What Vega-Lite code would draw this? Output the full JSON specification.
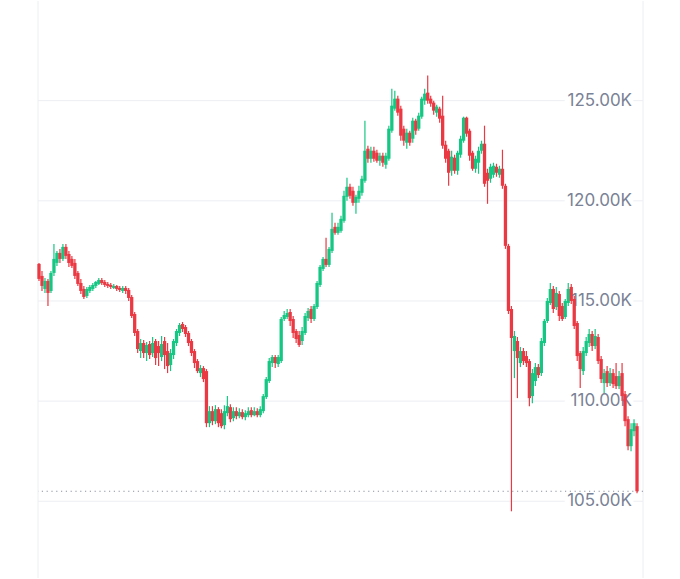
{
"$schema":"https://vega.github.io/schema/vega-lite/v6.json",
"width":680,"height":579,
"autosize":{"type":"fit","contains":"padding"},
"padding":{"left":37,"right":36,"top":0,"bottom":0},
"background":"white",
"config":{"view":{"stroke":null},"scale":{"continuousPadding":0}},
"datasets":{
"one":[{}],
"levels":[{"v":125,"label":"125.00K"},{"v":120,"label":"120.00K"},{"v":115,"label":"115.00K"},{"v":110,"label":"110.00K"},{"v":105,"label":"105.00K"}],
"candles":[
{"i":0,"o":116.85,"h":116.9,"l":116.0,"c":116.1},
{"i":1,"o":116.25,"h":116.5,"l":115.5,"c":115.75},
{"i":2,"o":115.6,"h":116.15,"l":115.4,"c":116.0},
{"i":3,"o":116.0,"h":116.1,"l":114.75,"c":115.4},
{"i":4,"o":115.5,"h":116.5,"l":115.4,"c":116.4},
{"i":5,"o":116.4,"h":117.85,"l":116.25,"c":117.1},
{"i":6,"o":116.9,"h":117.5,"l":116.75,"c":117.4},
{"i":7,"o":117.4,"h":117.6,"l":116.9,"c":117.1},
{"i":8,"o":117.1,"h":117.85,"l":117.0,"c":117.7},
{"i":9,"o":117.7,"h":117.85,"l":117.1,"c":117.25},
{"i":10,"o":117.35,"h":117.5,"l":116.7,"c":116.9},
{"i":11,"o":117.1,"h":117.25,"l":116.65,"c":116.75},
{"i":12,"o":116.9,"h":117.1,"l":116.1,"c":116.25},
{"i":13,"o":116.4,"h":116.5,"l":115.75,"c":115.85},
{"i":14,"o":115.9,"h":116.1,"l":115.35,"c":115.5},
{"i":15,"o":115.6,"h":115.75,"l":115.1,"c":115.2},
{"i":16,"o":115.25,"h":115.7,"l":115.15,"c":115.6},
{"i":17,"o":115.5,"h":115.8,"l":115.4,"c":115.7},
{"i":18,"o":115.6,"h":115.9,"l":115.5,"c":115.8},
{"i":19,"o":115.75,"h":116.0,"l":115.65,"c":115.95},
{"i":20,"o":115.85,"h":116.15,"l":115.8,"c":116.05},
{"i":21,"o":116.05,"h":116.15,"l":115.8,"c":115.9},
{"i":22,"o":115.95,"h":116.05,"l":115.7,"c":115.8},
{"i":23,"o":115.85,"h":115.95,"l":115.65,"c":115.75},
{"i":24,"o":115.8,"h":115.9,"l":115.6,"c":115.7},
{"i":25,"o":115.65,"h":115.85,"l":115.6,"c":115.75},
{"i":26,"o":115.75,"h":115.8,"l":115.5,"c":115.6},
{"i":27,"o":115.65,"h":115.75,"l":115.45,"c":115.55},
{"i":28,"o":115.5,"h":115.75,"l":115.4,"c":115.65},
{"i":29,"o":115.65,"h":115.75,"l":115.35,"c":115.5},
{"i":30,"o":115.55,"h":115.65,"l":115.0,"c":115.15},
{"i":31,"o":115.2,"h":115.3,"l":114.15,"c":114.25},
{"i":32,"o":114.35,"h":114.45,"l":113.25,"c":113.4},
{"i":33,"o":113.5,"h":113.6,"l":112.4,"c":112.6},
{"i":34,"o":112.5,"h":113.1,"l":112.15,"c":112.9},
{"i":35,"o":112.9,"h":113.05,"l":112.15,"c":112.4},
{"i":36,"o":112.4,"h":112.95,"l":112.0,"c":112.8},
{"i":37,"o":112.85,"h":113.0,"l":112.1,"c":112.3},
{"i":38,"o":112.4,"h":113.2,"l":112.2,"c":112.9},
{"i":39,"o":113.0,"h":113.1,"l":111.8,"c":112.15},
{"i":40,"o":112.75,"h":113.0,"l":111.75,"c":112.4},
{"i":41,"o":112.2,"h":113.25,"l":112.0,"c":112.85},
{"i":42,"o":113.0,"h":113.2,"l":111.6,"c":112.3},
{"i":43,"o":112.5,"h":112.9,"l":111.4,"c":111.75},
{"i":44,"o":111.8,"h":112.6,"l":111.5,"c":112.4},
{"i":45,"o":112.3,"h":113.1,"l":112.1,"c":113.0},
{"i":46,"o":112.9,"h":113.6,"l":112.75,"c":113.5},
{"i":47,"o":113.4,"h":113.9,"l":113.25,"c":113.8},
{"i":48,"o":113.85,"h":113.95,"l":113.45,"c":113.6},
{"i":49,"o":113.7,"h":113.8,"l":113.2,"c":113.35},
{"i":50,"o":113.4,"h":113.5,"l":112.75,"c":112.9},
{"i":51,"o":113.0,"h":113.1,"l":112.25,"c":112.4},
{"i":52,"o":112.5,"h":112.6,"l":111.65,"c":111.9},
{"i":53,"o":112.0,"h":112.1,"l":111.4,"c":111.5},
{"i":54,"o":111.4,"h":111.8,"l":111.2,"c":111.65},
{"i":55,"o":111.65,"h":111.75,"l":110.95,"c":111.1},
{"i":56,"o":111.5,"h":111.6,"l":108.7,"c":108.9},
{"i":57,"o":108.9,"h":109.75,"l":108.7,"c":109.5},
{"i":58,"o":109.5,"h":109.75,"l":108.8,"c":109.0},
{"i":59,"o":109.0,"h":109.8,"l":108.85,"c":109.6},
{"i":60,"o":109.6,"h":109.7,"l":108.7,"c":108.9},
{"i":61,"o":109.4,"h":109.6,"l":108.65,"c":108.75},
{"i":62,"o":108.8,"h":109.8,"l":108.6,"c":109.5},
{"i":63,"o":109.4,"h":110.25,"l":109.25,"c":109.75},
{"i":64,"o":109.7,"h":109.85,"l":108.95,"c":109.1},
{"i":65,"o":109.15,"h":109.7,"l":109.0,"c":109.5},
{"i":66,"o":109.5,"h":109.7,"l":109.1,"c":109.25},
{"i":67,"o":109.25,"h":109.65,"l":109.15,"c":109.45},
{"i":68,"o":109.45,"h":109.6,"l":109.1,"c":109.2},
{"i":69,"o":109.2,"h":109.55,"l":109.05,"c":109.4},
{"i":70,"o":109.3,"h":109.7,"l":109.2,"c":109.5},
{"i":71,"o":109.55,"h":109.7,"l":109.2,"c":109.3},
{"i":72,"o":109.3,"h":109.7,"l":109.25,"c":109.5},
{"i":73,"o":109.5,"h":109.65,"l":109.2,"c":109.3},
{"i":74,"o":109.3,"h":109.75,"l":109.2,"c":109.6},
{"i":75,"o":109.5,"h":110.35,"l":109.4,"c":110.25},
{"i":76,"o":110.2,"h":111.2,"l":110.1,"c":111.1},
{"i":77,"o":111.0,"h":112.15,"l":110.9,"c":112.0},
{"i":78,"o":111.9,"h":112.3,"l":111.7,"c":112.2},
{"i":79,"o":112.2,"h":112.3,"l":111.65,"c":111.9},
{"i":80,"o":111.85,"h":112.3,"l":111.7,"c":112.2},
{"i":81,"o":112.0,"h":114.2,"l":111.9,"c":114.1},
{"i":82,"o":114.1,"h":114.5,"l":114.0,"c":114.3},
{"i":83,"o":114.2,"h":114.6,"l":114.1,"c":114.4},
{"i":84,"o":114.45,"h":114.6,"l":113.75,"c":114.0},
{"i":85,"o":114.1,"h":114.25,"l":113.15,"c":113.4},
{"i":86,"o":113.5,"h":113.6,"l":112.9,"c":113.1},
{"i":87,"o":113.3,"h":113.5,"l":112.7,"c":112.8},
{"i":88,"o":113.0,"h":113.7,"l":112.8,"c":113.5},
{"i":89,"o":113.4,"h":114.4,"l":113.3,"c":114.25},
{"i":90,"o":114.15,"h":114.65,"l":114.0,"c":114.5},
{"i":91,"o":114.6,"h":114.75,"l":113.9,"c":114.1},
{"i":92,"o":114.1,"h":114.85,"l":114.0,"c":114.75},
{"i":93,"o":114.7,"h":116.0,"l":114.6,"c":115.9},
{"i":94,"o":115.8,"h":116.8,"l":115.7,"c":116.7},
{"i":95,"o":116.6,"h":117.2,"l":116.5,"c":117.1},
{"i":96,"o":117.1,"h":118.15,"l":116.7,"c":116.8},
{"i":97,"o":116.8,"h":117.7,"l":116.7,"c":117.6},
{"i":98,"o":117.5,"h":119.4,"l":117.4,"c":118.6},
{"i":99,"o":118.7,"h":118.9,"l":118.3,"c":118.4},
{"i":100,"o":118.4,"h":118.9,"l":118.3,"c":118.7},
{"i":101,"o":118.5,"h":119.25,"l":118.4,"c":119.1},
{"i":102,"o":119.0,"h":120.5,"l":118.9,"c":120.25},
{"i":103,"o":120.2,"h":121.15,"l":120.0,"c":120.7},
{"i":104,"o":120.7,"h":120.85,"l":120.1,"c":120.25},
{"i":105,"o":120.5,"h":120.7,"l":119.75,"c":119.9},
{"i":106,"o":119.9,"h":120.3,"l":119.35,"c":120.2},
{"i":107,"o":120.1,"h":120.75,"l":119.9,"c":120.5},
{"i":108,"o":120.4,"h":121.25,"l":120.25,"c":121.1},
{"i":109,"o":121.0,"h":124.0,"l":120.9,"c":122.5},
{"i":110,"o":122.6,"h":122.75,"l":121.9,"c":122.1},
{"i":111,"o":122.1,"h":122.7,"l":121.9,"c":122.5},
{"i":112,"o":122.5,"h":122.7,"l":121.95,"c":122.1},
{"i":113,"o":122.4,"h":122.55,"l":121.9,"c":122.0},
{"i":114,"o":122.0,"h":122.4,"l":121.75,"c":122.25},
{"i":115,"o":122.25,"h":122.4,"l":121.7,"c":121.9},
{"i":116,"o":121.8,"h":122.4,"l":121.6,"c":122.25},
{"i":117,"o":122.1,"h":123.75,"l":122.0,"c":123.6},
{"i":118,"o":123.5,"h":125.6,"l":123.4,"c":124.75},
{"i":119,"o":124.6,"h":125.5,"l":124.5,"c":125.1},
{"i":120,"o":125.1,"h":125.25,"l":124.25,"c":124.4},
{"i":121,"o":124.6,"h":124.75,"l":123.0,"c":123.25},
{"i":122,"o":123.6,"h":123.75,"l":122.75,"c":123.0},
{"i":123,"o":122.9,"h":123.6,"l":122.6,"c":123.4},
{"i":124,"o":123.4,"h":123.5,"l":122.75,"c":122.9},
{"i":125,"o":123.1,"h":124.15,"l":122.9,"c":124.0},
{"i":126,"o":124.0,"h":124.1,"l":123.3,"c":123.5},
{"i":127,"o":123.6,"h":124.4,"l":123.5,"c":124.25},
{"i":128,"o":124.2,"h":125.2,"l":124.1,"c":125.1},
{"i":129,"o":125.0,"h":125.6,"l":124.8,"c":125.35},
{"i":130,"o":125.4,"h":126.25,"l":124.85,"c":125.0},
{"i":131,"o":125.1,"h":125.25,"l":124.7,"c":124.85},
{"i":132,"o":124.9,"h":125.0,"l":124.3,"c":124.5},
{"i":133,"o":124.4,"h":124.8,"l":124.2,"c":124.7},
{"i":134,"o":124.6,"h":124.7,"l":123.9,"c":124.1},
{"i":135,"o":124.25,"h":125.25,"l":122.6,"c":122.75},
{"i":136,"o":122.8,"h":123.0,"l":121.9,"c":122.1},
{"i":137,"o":122.5,"h":122.6,"l":120.75,"c":121.4},
{"i":138,"o":121.5,"h":122.5,"l":121.25,"c":122.2},
{"i":139,"o":122.15,"h":122.3,"l":121.35,"c":121.5},
{"i":140,"o":121.5,"h":122.5,"l":121.3,"c":122.4},
{"i":141,"o":122.3,"h":123.25,"l":122.15,"c":123.1},
{"i":142,"o":123.0,"h":124.2,"l":122.9,"c":124.15},
{"i":143,"o":124.15,"h":124.2,"l":123.2,"c":123.35},
{"i":144,"o":123.5,"h":123.6,"l":122.0,"c":122.25},
{"i":145,"o":122.4,"h":122.5,"l":121.5,"c":121.6},
{"i":146,"o":121.6,"h":122.25,"l":121.4,"c":122.1},
{"i":147,"o":121.9,"h":122.7,"l":121.35,"c":122.5},
{"i":148,"o":122.5,"h":123.0,"l":122.35,"c":122.85},
{"i":149,"o":122.85,"h":123.75,"l":120.7,"c":120.85},
{"i":150,"o":121.4,"h":121.6,"l":119.85,"c":121.0},
{"i":151,"o":121.1,"h":121.85,"l":120.9,"c":121.7},
{"i":152,"o":121.3,"h":121.9,"l":121.15,"c":121.75},
{"i":153,"o":121.7,"h":121.85,"l":121.2,"c":121.4},
{"i":154,"o":121.3,"h":121.75,"l":121.15,"c":121.6},
{"i":155,"o":121.6,"h":122.55,"l":120.6,"c":120.75},
{"i":156,"o":120.75,"h":120.85,"l":117.6,"c":117.75},
{"i":157,"o":117.75,"h":117.85,"l":114.35,"c":114.5},
{"i":158,"o":114.6,"h":114.75,"l":104.5,"c":113.15},
{"i":159,"o":112.5,"h":113.5,"l":111.15,"c":113.25},
{"i":160,"o":113.0,"h":113.2,"l":110.15,"c":112.15},
{"i":161,"o":111.9,"h":112.7,"l":111.7,"c":112.5},
{"i":162,"o":112.5,"h":112.65,"l":111.8,"c":112.0},
{"i":163,"o":112.25,"h":112.5,"l":111.7,"c":111.9},
{"i":164,"o":112.0,"h":112.1,"l":109.75,"c":110.15},
{"i":165,"o":110.25,"h":111.6,"l":109.9,"c":111.4},
{"i":166,"o":111.0,"h":111.9,"l":110.75,"c":111.7},
{"i":167,"o":111.7,"h":111.85,"l":111.15,"c":111.3},
{"i":168,"o":111.4,"h":113.15,"l":111.25,"c":113.0},
{"i":169,"o":112.9,"h":114.1,"l":112.75,"c":114.0},
{"i":170,"o":114.0,"h":115.15,"l":113.9,"c":115.0},
{"i":171,"o":114.9,"h":115.9,"l":114.8,"c":115.6},
{"i":172,"o":115.6,"h":115.75,"l":114.4,"c":114.6},
{"i":173,"o":114.7,"h":115.7,"l":114.55,"c":115.4},
{"i":174,"o":115.35,"h":115.5,"l":114.0,"c":114.25},
{"i":175,"o":114.75,"h":114.9,"l":114.0,"c":114.1},
{"i":176,"o":114.2,"h":115.1,"l":114.1,"c":115.0},
{"i":177,"o":114.9,"h":115.9,"l":114.75,"c":115.6},
{"i":178,"o":115.7,"h":115.85,"l":114.85,"c":115.0},
{"i":179,"o":115.1,"h":115.25,"l":113.6,"c":113.75},
{"i":180,"o":113.9,"h":114.0,"l":112.0,"c":112.25},
{"i":181,"o":112.4,"h":112.5,"l":110.65,"c":111.6},
{"i":182,"o":111.5,"h":112.7,"l":111.3,"c":112.5},
{"i":183,"o":112.4,"h":113.2,"l":112.25,"c":113.0},
{"i":184,"o":112.9,"h":113.6,"l":112.7,"c":113.35},
{"i":185,"o":113.35,"h":113.5,"l":112.5,"c":112.75},
{"i":186,"o":112.75,"h":113.6,"l":112.6,"c":113.25},
{"i":187,"o":113.2,"h":113.35,"l":111.85,"c":112.0},
{"i":188,"o":112.1,"h":112.25,"l":110.9,"c":111.1},
{"i":189,"o":110.9,"h":111.6,"l":110.4,"c":111.4},
{"i":190,"o":111.5,"h":111.75,"l":110.7,"c":110.9},
{"i":191,"o":110.9,"h":111.65,"l":110.75,"c":111.4},
{"i":192,"o":111.4,"h":111.6,"l":110.65,"c":110.85},
{"i":193,"o":111.25,"h":111.9,"l":110.6,"c":110.75},
{"i":194,"o":110.75,"h":111.5,"l":110.6,"c":111.25},
{"i":195,"o":111.4,"h":111.9,"l":110.0,"c":110.25},
{"i":196,"o":110.35,"h":110.5,"l":108.75,"c":109.0},
{"i":197,"o":109.1,"h":109.25,"l":107.55,"c":107.75},
{"i":198,"o":107.75,"h":108.9,"l":107.5,"c":108.6},
{"i":199,"o":108.5,"h":109.1,"l":108.25,"c":108.9},
{"i":200,"o":108.75,"h":108.9,"l":105.4,"c":105.5}
]},
"layer":[
{"data":{"name":"levels"},"mark":{"type":"rule","color":"#eceef2","strokeWidth":1},
 "encoding":{"y":{"field":"v","type":"quantitative","scale":{"domain":[101.17,129.975],"nice":false,"zero":false,"padding":0},"axis":null}}},
{"data":{"name":"one"},"mark":{"type":"rule","color":"#eceef2","strokeWidth":1},
 "encoding":{"x":{"datum":-0.333,"type":"quantitative","scale":{"domain":[-0.333,202],"nice":false,"zero":false,"padding":0},"axis":null}}},
{"data":{"name":"one"},"mark":{"type":"rule","color":"#eceef2","strokeWidth":1},
 "encoding":{"x":{"datum":202,"type":"quantitative"}}},
{"data":{"name":"levels"},"mark":{"type":"bar","color":"white","size":20,"orient":"horizontal"},
 "encoding":{"y":{"field":"v","type":"quantitative"},"x":{"datum":175.8,"type":"quantitative"},"x2":{"datum":198.8}}},
{"data":{"name":"levels"},"mark":{"type":"text","align":"right","baseline":"middle","font":"Inter","fontSize":17,"color":"#7a8295"},
 "encoding":{"y":{"field":"v","type":"quantitative"},"x":{"datum":198.33,"type":"quantitative"},"text":{"field":"label"}}},
{"data":{"name":"one"},"mark":{"type":"rule","color":"#8a92a0","strokeWidth":1,"strokeDash":[1.2,3.6]},
 "encoding":{"y":{"datum":105.5,"type":"quantitative"}}},
{"data":{"name":"candles"},"mark":{"type":"rule","strokeWidth":1.2},
 "encoding":{"x":{"field":"i","type":"quantitative"},"y":{"field":"l","type":"quantitative"},"y2":{"field":"h"},
  "color":{"condition":{"test":"datum.c >= datum.o","value":"#16c784"},"value":"#ea3943"}}},
{"data":{"name":"candles"},"mark":{"type":"bar","size":3.3,"orient":"vertical"},
 "encoding":{"x":{"field":"i","type":"quantitative"},"y":{"field":"o","type":"quantitative"},"y2":{"field":"c"},
  "color":{"condition":{"test":"datum.c >= datum.o","value":"#16c784"},"value":"#ea3943"}}}
]
}
